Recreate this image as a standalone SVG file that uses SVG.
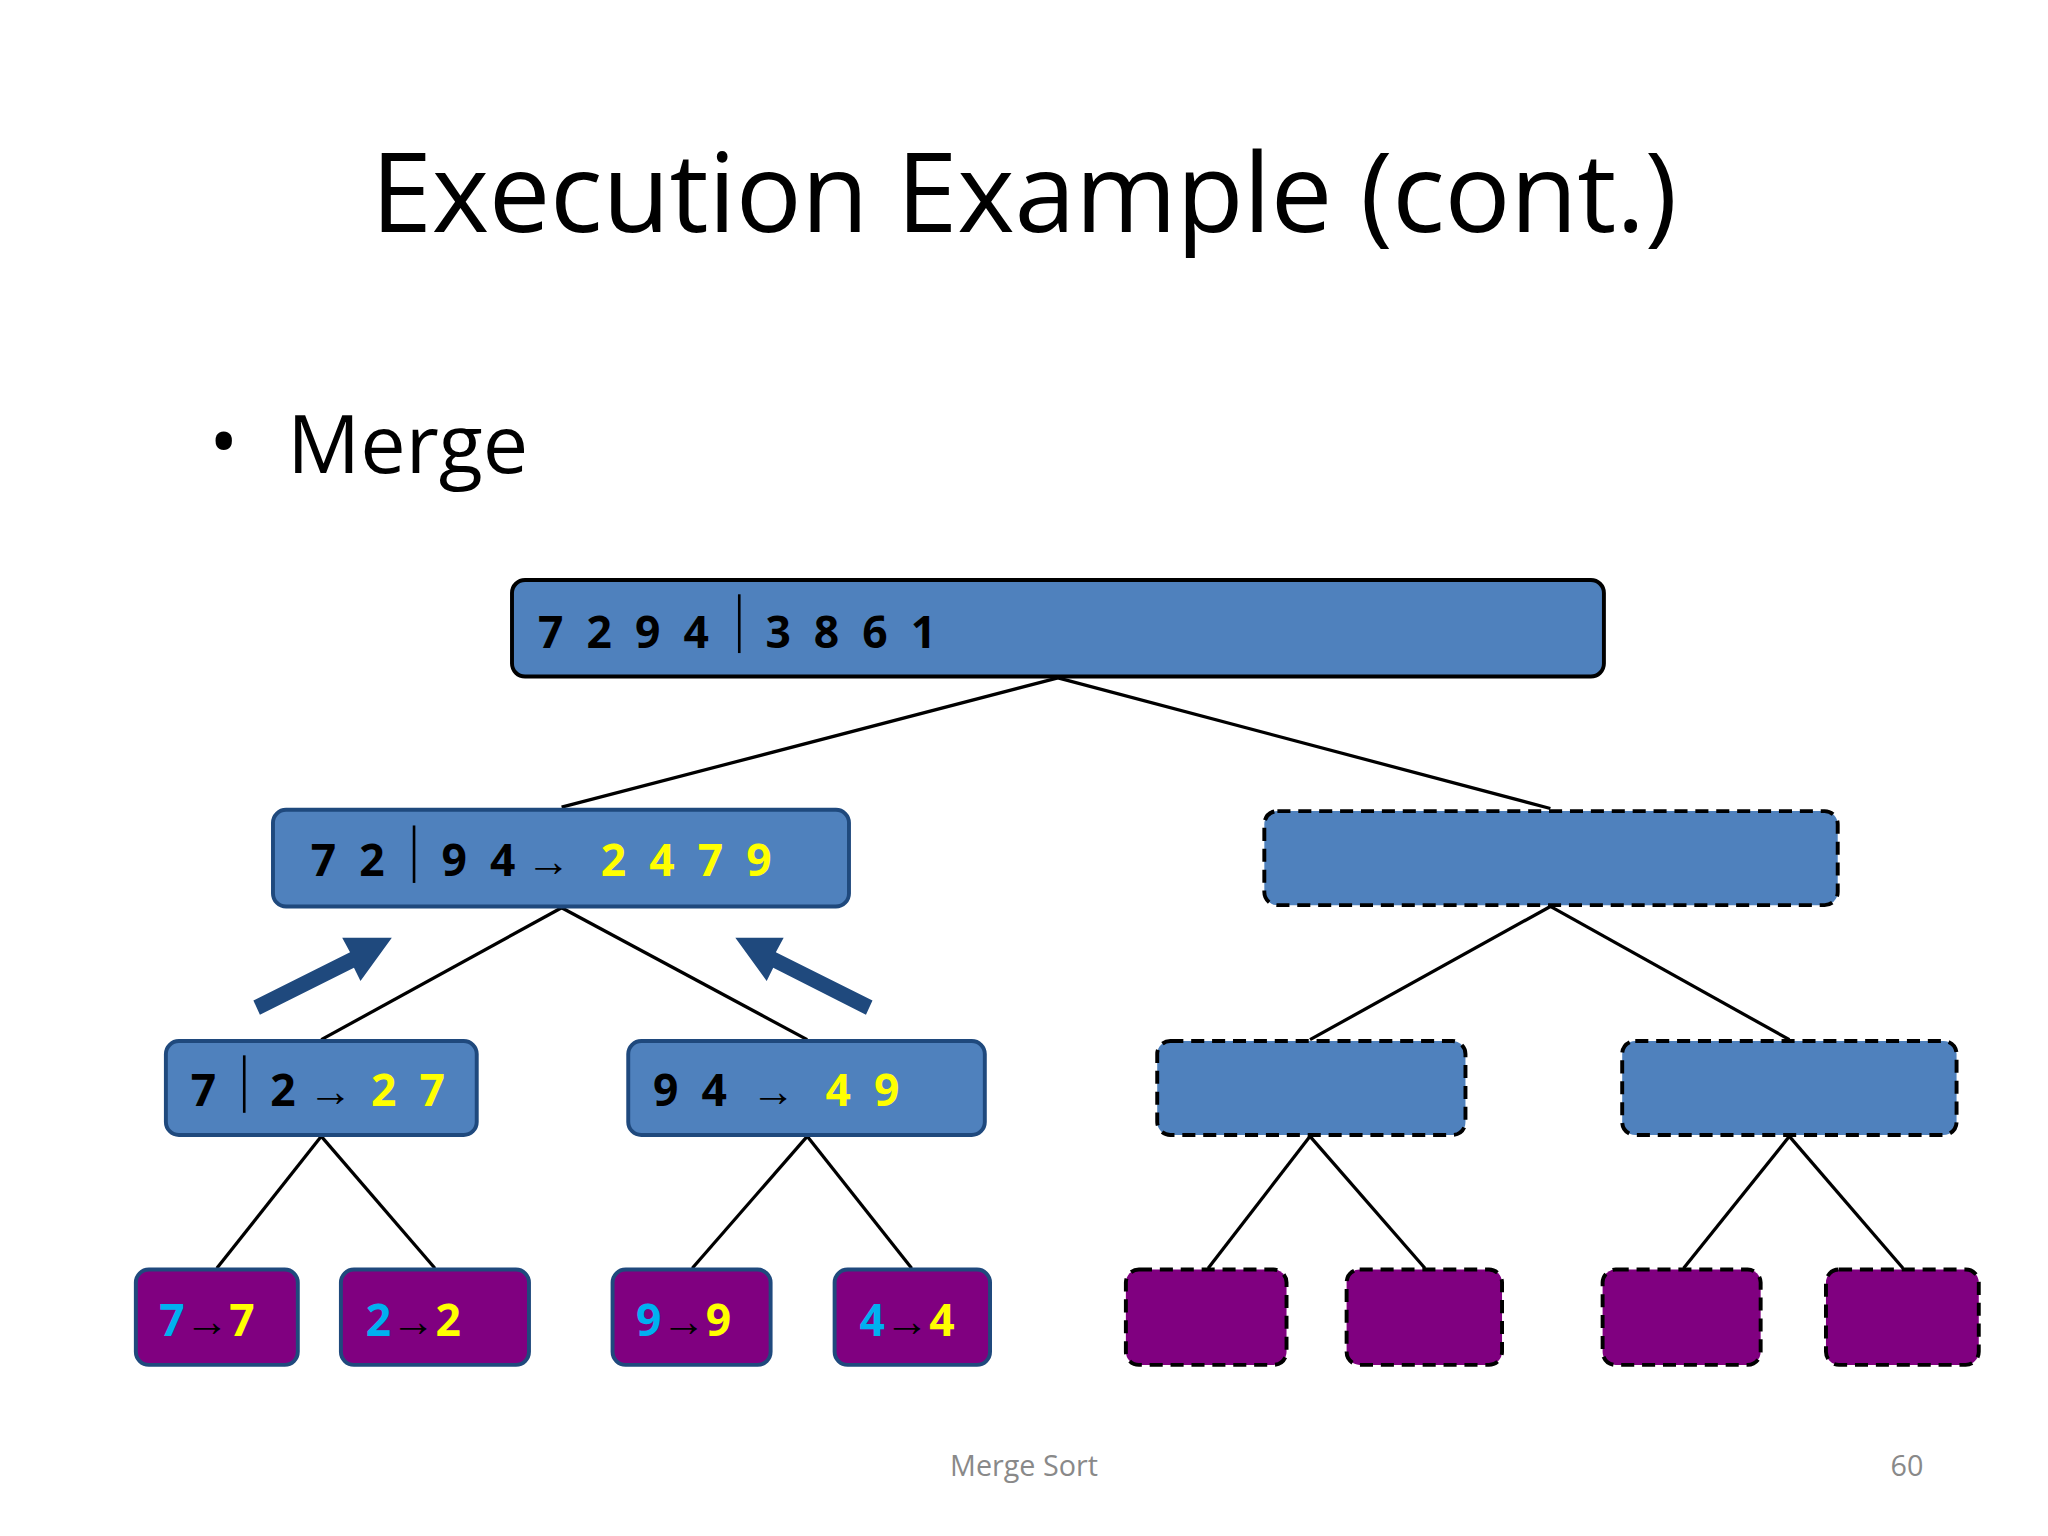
<svg xmlns="http://www.w3.org/2000/svg" width="2048" height="1536" viewBox="0 0 2048 1536">
<style>
.t{font-family:"Open Sans","Liberation Sans",sans-serif}
.n{font-family:"Open Sans","Liberation Sans",sans-serif;font-weight:bold;font-size:34px}
.bs{fill:#4F81BD;stroke:#1F497D;stroke-width:3}
.bd{fill:#4F81BD;stroke:#000;stroke-width:3;stroke-dasharray:10 6}
.ps{fill:#800080;stroke:#1F497D;stroke-width:3}
.pd{fill:#800080;stroke:#000;stroke-width:3;stroke-dasharray:10 6}
.c line{stroke:#000;stroke-width:2.5}
.k{fill:#000}.y{fill:#FFFF00}.b{fill:#00B0F0}
</style>
<rect width="2048" height="1536" fill="#fff"/>
<g transform="scale(1.30612)">
<text class="t" x="784" y="178" font-size="84" text-anchor="middle" textLength="1000">Execution Example (cont.)</text>
<text class="t" x="160" y="360" font-size="60">•</text>
<text class="t" x="220" y="362" font-size="62">Merge</text>
<g class="c" id="connectors">
<line x1="810" y1="519" x2="430" y2="618"/><line x1="810" y1="519" x2="1187" y2="619"/>
<line x1="430" y1="695" x2="246" y2="796"/><line x1="430" y1="695" x2="618" y2="796"/>
<line x1="1187" y1="694" x2="1003" y2="796"/><line x1="1187" y1="694" x2="1370" y2="796"/>
<line x1="246" y1="870" x2="166" y2="971"/><line x1="246" y1="870" x2="333" y2="971"/>
<line x1="618" y1="870" x2="530" y2="971"/><line x1="618" y1="870" x2="698" y2="971"/>
<line x1="1003" y1="870" x2="925" y2="971"/><line x1="1003" y1="870" x2="1091" y2="971"/>
<line x1="1370" y1="870" x2="1289" y2="971"/><line x1="1370" y1="870" x2="1457" y2="971"/>
<polygon fill="#1F497D" points="194,766 268,729 262,718 300,718 276,751 271,741 199,777"/>
<polygon fill="#1F497D" points="668,766 594,729 600,718 563,718 587,751 592,741 663,777"/>
</g>
<g id="root"><rect x="392" y="444" width="836" height="74" rx="10" fill="#4F81BD" stroke="#000" stroke-width="3"/>
<text class="n k" x="412" y="496" xml:space="preserve">7  2  9  4</text><line x1="566" y1="455" x2="566" y2="500" stroke="#000" stroke-width="2"/><text class="n k" x="586" y="496" xml:space="preserve">3  8  6  1</text></g>
<g id="l1a"><rect class="bs" x="209" y="620" width="441" height="74" rx="10" stroke-width="4"/>
<text class="n k" x="238" y="671" xml:space="preserve">7  2</text><line x1="317" y1="632" x2="317" y2="676" stroke="#000" stroke-width="2"/><text class="n k" x="338" y="671" xml:space="preserve">9  4</text><text class="n k" x="403" y="671">→</text><text class="n y" x="460" y="671" xml:space="preserve">2  4  7  9</text></g>
<g id="l1b"><rect class="bd" x="968" y="621" width="439" height="72" rx="10"/></g>
<g id="l2a"><rect class="bs" x="127" y="797" width="238" height="72" rx="10"/>
<text class="n k" x="146" y="847">7</text><line x1="187" y1="808" x2="187" y2="852" stroke="#000" stroke-width="2"/><text class="n k" x="207" y="847">2</text><text class="n k" x="236" y="847">→</text><text class="n y" x="284" y="847" xml:space="preserve">2  7</text></g>
<g id="l2b"><rect class="bs" x="481" y="797" width="273" height="72" rx="10"/>
<text class="n k" x="500" y="847" xml:space="preserve">9  4</text><text class="n k" x="575" y="847">→</text><text class="n y" x="632" y="847" xml:space="preserve">4  9</text></g>
<g id="l2c"><rect class="bd" x="886" y="797" width="236" height="72" rx="10"/></g>
<g id="l2d"><rect class="bd" x="1242" y="797" width="256" height="72" rx="10"/></g>
<g id="l3a"><rect class="ps" x="104" y="972" width="124" height="73" rx="10"/><text class="n" x="122" y="1023"><tspan class="b">7</tspan><tspan class="k">→</tspan><tspan class="y">7</tspan></text></g>
<g id="l3b"><rect class="ps" x="261" y="972" width="144" height="73" rx="10"/><text class="n" x="280" y="1023"><tspan class="b">2</tspan><tspan class="k">→</tspan><tspan class="y">2</tspan></text></g>
<g id="l3c"><rect class="ps" x="469" y="972" width="121" height="73" rx="10"/><text class="n" x="487" y="1023"><tspan class="b">9</tspan><tspan class="k">→</tspan><tspan class="y">9</tspan></text></g>
<g id="l3d"><rect class="ps" x="639" y="972" width="119" height="73" rx="10"/><text class="n" x="658" y="1023"><tspan class="b">4</tspan><tspan class="k">→</tspan><tspan class="y">4</tspan></text></g>
<g id="l3e"><rect class="pd" x="862" y="972" width="123" height="73" rx="10"/></g>
<g id="l3f"><rect class="pd" x="1031" y="972" width="119" height="73" rx="10"/></g>
<g id="l3g"><rect class="pd" x="1227" y="972" width="121" height="73" rx="10"/></g>
<g id="l3h"><rect class="pd" x="1398" y="972" width="117" height="73" rx="10"/></g>
<text class="t" x="784" y="1130" font-size="22" fill="#898989" text-anchor="middle">Merge Sort</text>
<text class="t" x="1460" y="1130" font-size="22" fill="#898989" text-anchor="middle">60</text>
</g>
</svg>
